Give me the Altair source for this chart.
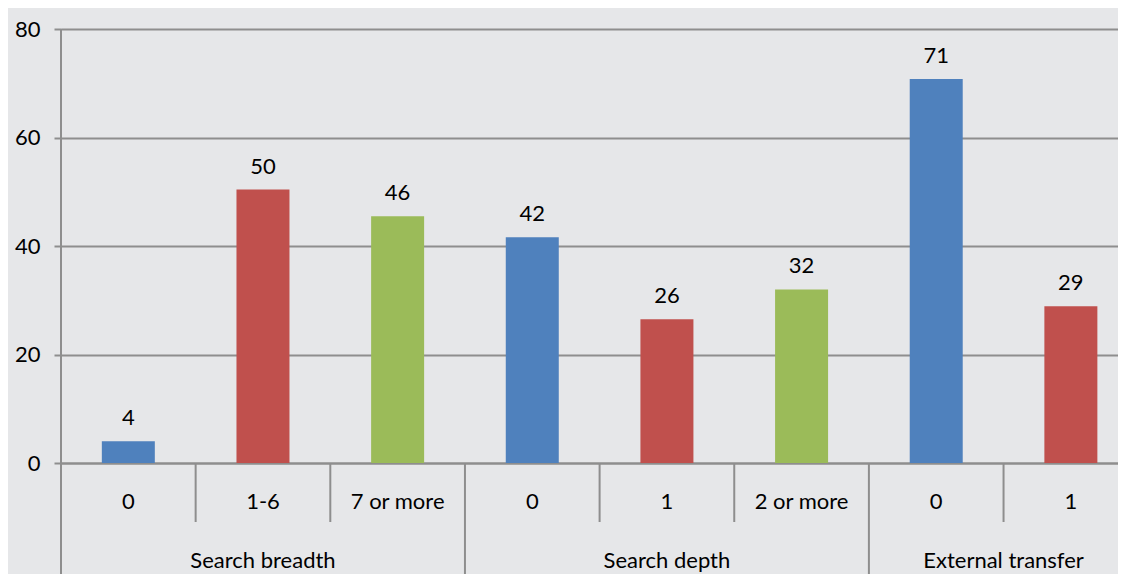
import altair as alt
import pandas as pd

# data
groups = ["Search breadth", "Search breadth", "Search breadth",
          "Search depth", "Search depth", "Search depth",
          "External transfer", "External transfer"]
levels = ["0", "1-6", "7 or more", "0", "1", "2 or more", "0", "1"]
values = [4.0, 50.4, 45.5, 41.6, 26.5, 32.0, 70.8, 28.9]
value_labels = ["4", "50", "46", "42", "26", "32", "71", "29"]
series = ["a", "b", "c", "a", "b", "c", "a", "b"]
group_names = ["Search breadth", "Search depth", "External transfer"]
group_sizes = [3, 3, 2]

colors = ["#4F81BD", "#C0504D", "#9BBB59"]
BG = "#E6E7E9"
GRID = "#8E8E8E"
FONT = "Lato"
FS = 22

# build tables
pos = [i + 0.5 for i in range(len(levels))]
df = pd.DataFrame({"pos": pos, "value": values, "label": value_labels,
                   "level": levels, "series": series, "group": groups})

starts = []
centers = []
s = 0
for n in group_sizes:
    starts.append(s)
    centers.append(s + n / 2)
    s += n
gdf = pd.DataFrame({"center": centers, "name": group_names})
long_sep = pd.DataFrame({"b": starts})
short_sep = pd.DataFrame({"b": [b for b in range(len(levels)) if b not in starts]})

W = 1057
H = 434
x_scale = alt.Scale(domain=[0, 7.85], nice=False, zero=False, padding=0)
y_scale = alt.Scale(domain=[0, 80], nice=False, padding=0)

base = alt.Chart(df)

bars = base.mark_bar(size=53).encode(
    x=alt.X("pos:Q", scale=x_scale,
            axis=alt.Axis(labels=False, ticks=False, grid=False, title=None,
                          domainColor=GRID, domainWidth=2)),
    y=alt.Y("value:Q", scale=y_scale,
            axis=alt.Axis(values=[0, 20, 40, 60, 80], title=None, grid=True,
                          gridColor=GRID, gridWidth=2, domain=False,
                          tickColor=GRID, tickWidth=2, tickSize=7,
                          labelFont=FONT, labelFontSize=FS, labelColor="#000000",
                          labelPadding=14)),
    color=alt.Color("series:N", scale=alt.Scale(domain=["a", "b", "c"], range=colors),
                    legend=None),
)

val_text = base.mark_text(font=FONT, fontSize=FS, color="#000000",
                          baseline="alphabetic", dy=-16).encode(
    x=alt.X("pos:Q", scale=x_scale),
    y=alt.Y("value:Q", scale=y_scale),
    text="label:N",
)

level_text = base.mark_text(font=FONT, fontSize=FS, color="#000000",
                            baseline="alphabetic").encode(
    x=alt.X("pos:Q", scale=x_scale),
    y=alt.value(H + 46),
    text="level:N",
)

group_text = alt.Chart(gdf).mark_text(font=FONT, fontSize=FS, color="#000000",
                                      baseline="alphabetic").encode(
    x=alt.X("center:Q", scale=x_scale),
    y=alt.value(H + 105),
    text="name:N",
)

short_rules = alt.Chart(short_sep).mark_rule(color=GRID, strokeWidth=2).encode(
    x=alt.X("b:Q", scale=x_scale),
    y=alt.value(H),
    y2=alt.value(H + 59),
)

long_rules = alt.Chart(long_sep).mark_rule(color=GRID, strokeWidth=2).encode(
    x=alt.X("b:Q", scale=x_scale),
    y=alt.value(H),
    y2=alt.value(H + 140),
)

left_axis = alt.Chart(pd.DataFrame({"b": [0]})).mark_rule(color=GRID, strokeWidth=2).encode(
    x=alt.X("b:Q", scale=x_scale),
    y=alt.value(0),
    y2=alt.value(H),
)

chart = alt.layer(bars, left_axis, short_rules, long_rules, val_text, level_text, group_text).properties(
    width=W, height=H,
    background=BG,
    padding={"left": 53, "top": 21, "right": 0, "bottom": 119},
    autosize=alt.AutoSizeParams(type="none"),
).configure_view(stroke=None, fill=BG)

chart.save("out.html", embed_options={"renderer": "svg", "actions": False})
